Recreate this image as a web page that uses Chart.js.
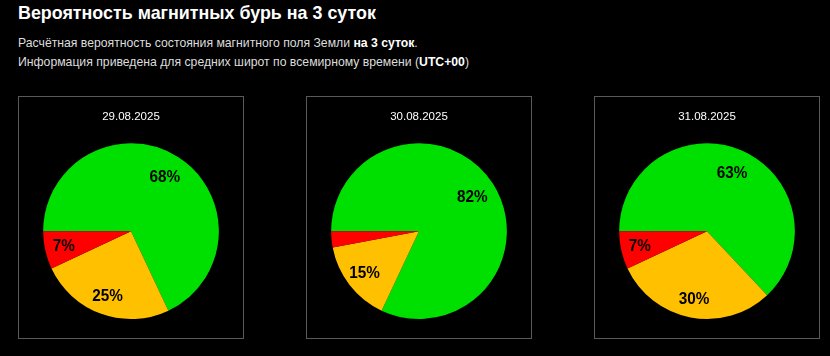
<!DOCTYPE html>
<html><head><meta charset="utf-8">
<script src="https://cdn.jsdelivr.net/npm/chart.js@4/dist/chart.umd.min.js"></script>
<style>
html,body{margin:0;padding:0;background:#000;width:830px;height:356px;overflow:hidden;font-family:"Liberation Sans",Arial,sans-serif;}
#title{position:absolute;left:18px;top:2px;font-size:19px;font-weight:bold;color:#fff;line-height:22px;white-space:nowrap;transform:scaleX(0.94);transform-origin:0 0;}
.sub{position:absolute;left:18px;font-size:13px;color:#ddd;line-height:16px;white-space:nowrap;transform:scaleX(0.94);transform-origin:0 0;}
.sub b{color:#fff;}
.box{position:absolute;top:96px;width:224px;height:241px;border:1px solid #5a5a5a;}
.box canvas{display:block;}
</style></head><body>
<div id="title">Вероятность магнитных бурь на 3 суток</div>
<div class="sub" style="top:35px">Расчётная вероятность состояния магнитного поля Земли <b>на 3 суток</b>.</div>
<div class="sub" style="top:54px">Информация приведена для средних широт по всемирному времени (<b>UTC+00</b>)</div>
<div class="box" style="left:18px"><canvas id="c0" width="224" height="241"></canvas></div>
<div class="box" style="left:306px"><canvas id="c1" width="224" height="241"></canvas></div>
<div class="box" style="left:594px"><canvas id="c2" width="224" height="241"></canvas></div>
<script>
const dates = ["29.08.2025", "30.08.2025", "31.08.2025"];
const categories = ["Спокойно", "Возмущения", "Буря"];
const day1 = [68, 25, 7];
const day2 = [82, 15, 3];
const day3 = [63, 30, 7];
const seriesByDay = [day1, day2, day3];
const colors = ["#00e000", "#ffc000", "#ff0000"];
const labelRadius = [0.72, 0.785, 0.785];

const pctLabels = {
  id: 'pctLabels',
  afterDatasetsDraw(chart) {
    const ctx = chart.ctx;
    const meta = chart.getDatasetMeta(0);
    const data = chart.data.datasets[0].data;
    meta.data.forEach((arc, i) => {
      const v = data[i];
      if (v < 5) return;
      const p = arc.getProps(['x','y','startAngle','endAngle','outerRadius'], true);
      const mid = (p.startAngle + p.endAngle) / 2;
      const r = p.outerRadius * labelRadius[i];
      ctx.save();
      ctx.translate(p.x + Math.cos(mid) * r, p.y + Math.sin(mid) * r);
      ctx.scale(0.9, 1);
      ctx.font = 'bold 17px "Liberation Sans", Arial, sans-serif';
      ctx.fillStyle = '#000';
      ctx.textAlign = 'center';
      ctx.textBaseline = 'middle';
      ctx.fillText(v + '%', 0, 0);
      ctx.restore();
    });
  }
};

seriesByDay.forEach((vals, k) => {
  new Chart(document.getElementById('c' + k), {
    type: 'pie',
    data: {
      labels: categories,
      datasets: [{ data: vals, backgroundColor: colors, borderWidth: 0, hoverOffset: 0 }]
    },
    options: {
      responsive: false,
      animation: false,
      rotation: 270,
      layout: { padding: { top: 0, left: 24, right: 24, bottom: 19 } },
      plugins: {
        legend: { display: false },
        tooltip: { enabled: false },
        title: {
          display: true,
          text: dates[k],
          color: '#fff',
          font: { family: '"Liberation Sans", Arial, sans-serif', size: 11.5, weight: 'normal' },
          padding: { top: 13, bottom: 19.5 }
        }
      }
    },
    plugins: [pctLabels]
  });
});
</script>
</body></html>
